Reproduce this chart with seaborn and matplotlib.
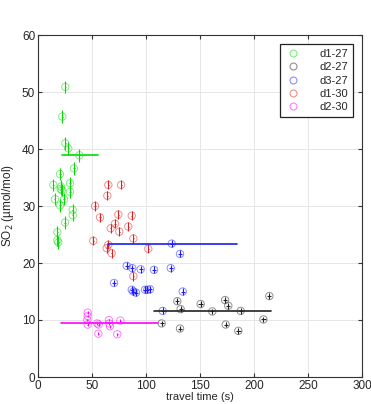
import numpy as np
import pandas as pd
import seaborn as sns
import matplotlib.pyplot as plt
from matplotlib.lines import Line2D

# travel time (s) and SO2 (umol/mol) per data set
d1_27_t = [25.3, 22.5, 25.3, 28.0, 38.3, 33.3, 20.4, 14.2, 21.3, 21.0, 22.0, 29.6, 29.6,
           15.7, 24.1, 20.4, 32.1, 32.1, 25.0, 17.9, 18.0, 18.8]
d1_27_y = [50.9, 45.7, 41.0, 40.1, 38.9, 36.6, 35.6, 33.7, 33.4, 33.0, 32.8, 34.0, 32.5,
           31.2, 31.2, 30.1, 28.4, 29.3, 27.1, 25.4, 24.0, 23.6]

d2_27_t = [129.0, 132.1, 150.6, 173.2, 176.2, 161.4, 187.7, 214.2, 208.7, 114.5, 131.5,
           173.8, 185.5]
d2_27_y = [13.3, 11.9, 12.8, 13.5, 12.5, 11.5, 11.6, 14.2, 10.1, 9.4, 8.5, 9.2, 8.1]

d3_27_t = [123.8, 131.5, 82.1, 87.3, 95.1, 107.4, 122.9, 70.4, 86.8, 88.3, 90.7, 99.1,
           101.2, 103.7, 134.0, 115.5]
d3_27_y = [23.4, 21.6, 19.5, 19.1, 18.9, 18.8, 19.1, 16.5, 15.3, 15.0, 14.8, 15.3, 15.3,
           15.4, 15.0, 11.6]

d1_30_t = [65.1, 76.9, 64.2, 52.8, 57.4, 74.4, 86.8, 71.3, 67.3, 75.3, 83.6, 51.2, 88.3,
           65.1, 63.6, 68.2, 102.1, 88.3]
d1_30_y = [33.7, 33.7, 31.8, 30.0, 28.0, 28.5, 28.3, 26.9, 26.1, 25.5, 26.4, 23.9, 24.3,
           23.2, 22.6, 21.7, 22.5, 17.7]

d2_30_t = [46.0, 46.0, 45.7, 46.0, 54.9, 56.2, 55.9, 65.7, 66.0, 66.7, 76.2, 73.4]
d2_30_y = [11.3, 10.7, 10.0, 9.2, 9.4, 9.2, 7.6, 10.0, 9.4, 8.9, 9.9, 7.5]

labels = ['d1-27', 'd2-27', 'd3-27', 'd1-30', 'd2-30']
times = [d1_27_t, d2_27_t, d3_27_t, d1_30_t, d2_30_t]
so2 = [d1_27_y, d2_27_y, d3_27_y, d1_30_y, d2_30_y]
# uncertainty per data set (x, y)
t_err = [0.5, 2.0, 2.0, 0.5, 0.3]
y_err = [1.1, 0.5, 0.6, 0.8, 0.25]
# mean level lines: start, end, level
line_start = [22.0, 107.0, 65.0, None, 21.0]
line_end = [56.0, 215.5, 184.6, None, 111.4]
line_level = [39.0, 11.5, 23.4, None, 9.4]

colors = ['#00dd00', '#222222', '#1a1aff', '#e02020', '#ff00ff']

df = pd.concat([
  pd.DataFrame({'travel time (s)': t, 'SO2': y, 'set': lab})
  for t, y, lab in zip(times, so2, labels)
], ignore_index=True)

sns.set_style('ticks')
plt.rcParams['font.family'] = ['Liberation Sans', 'DejaVu Sans']

fig = plt.figure(figsize=(3.71, 4.04), dpi=100)
ax = fig.add_axes([38 / 371, 1 - 377 / 404, 324 / 371, 342 / 404])

pal = dict(zip(labels, colors))
sns.scatterplot(data=df, x='travel time (s)', y='SO2', hue='set', palette=pal,
                marker='o', s=28, facecolor='none', linewidth=0.7, alpha=0.5,
                legend=False, ax=ax, zorder=3)
coll = ax.collections[-1]
coll.set_edgecolors([pal[s] for s in df['set']])
coll.set_facecolors('none')

for t, y, c, xe, ye in zip(times, so2, colors, t_err, y_err):
  ax.errorbar(t, y, xerr=xe, yerr=ye, fmt='none', ecolor=c, elinewidth=0.8,
              capsize=0, zorder=4)

for s, e, lv, c in zip(line_start, line_end, line_level, colors):
  if s is None:
    continue
  ax.plot([s, e], [lv, lv], color=c, lw=1.2, zorder=5)

ax.set_xlim(0, 300)
ax.set_ylim(0, 60)
ax.set_xticks(np.arange(0, 301, 50))
ax.set_yticks(np.arange(0, 61, 10))
ax.grid(True, color='#e6e6e6', lw=0.7)
ax.set_axisbelow(True)
ax.tick_params(direction='in', top=True, right=True, labelsize=8.5, length=3,
               color='#333333', pad=2)
for sp in ax.spines.values():
  sp.set_color('#333333')
  sp.set_linewidth(0.8)
ax.set_xlabel('travel time (s)', fontsize=8, labelpad=0)
ax.set_ylabel('SO$_2$ (µmol/mol)', fontsize=8.5, labelpad=4)

handles = [Line2D([], [], marker='o', ls='none', mfc='none', mec=c, alpha=0.5,
                  markersize=5, mew=0.8) for c in colors]
leg = ax.legend(handles, labels, loc='upper right', bbox_to_anchor=(0.99, 0.99),
                fontsize=8, frameon=True, fancybox=False, framealpha=1,
                edgecolor='#222222', handlelength=1.5, handletextpad=1.6,
                labelspacing=0.3, borderpad=0.45, markerfirst=True)
leg.get_frame().set_linewidth(0.9)

fig.savefig('out.png', dpi=100)
